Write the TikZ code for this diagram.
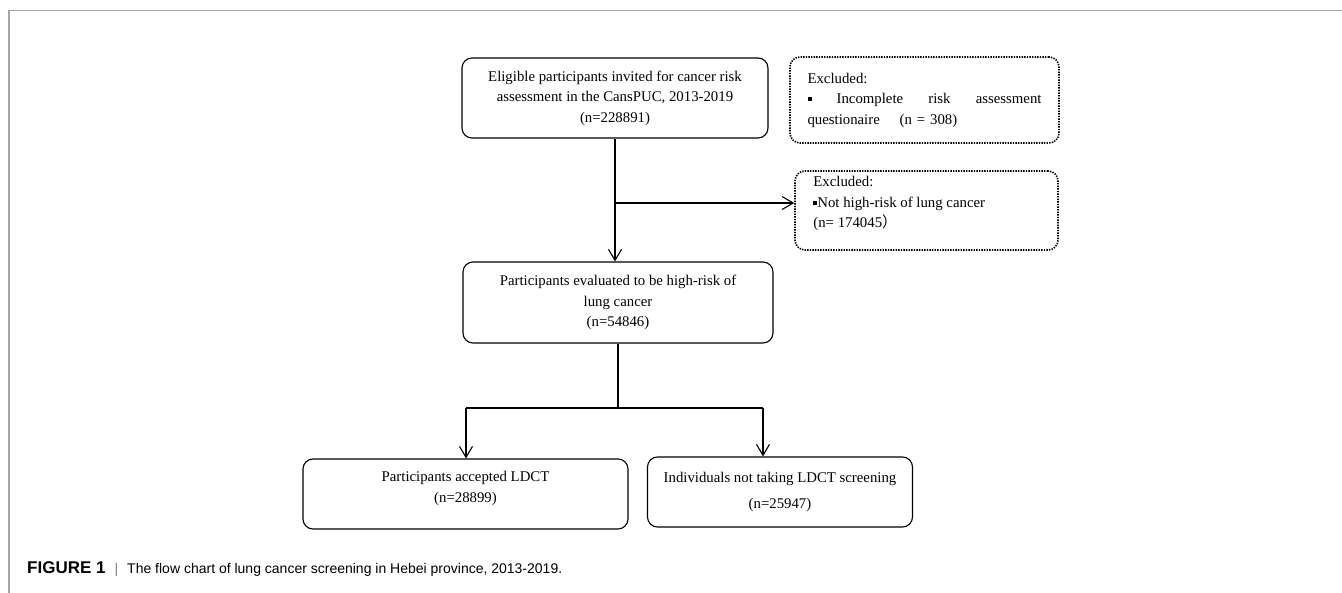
\documentclass[tikz,border=0pt]{standalone}
\usepackage{fontspec}
\setmainfont{Liberation Serif}
\newfontfamily\capfont{Liberation Sans}
\newfontfamily\cjkfont{Noto Sans CJK SC}
\usetikzlibrary{arrows.meta}
\newcommand{\sqb}{\raisebox{2.5pt}{\rule{4pt}{4pt}}}
\tikzset{
  flowbox/.style={draw, rounded corners=10pt, line width=1.1pt, align=center,
    inner sep=0pt, font=\fontsize{14.8}{20.5}\selectfont},
  exbox/.style={draw, rounded corners=10pt, line width=1.6pt,
    dash pattern=on 1.4pt off 1.2pt, inner sep=0pt, align=left,
    font=\fontsize{14.8}{20.5}\selectfont},
  flowline/.style={line width=1.1pt},
  flowarrow/.style={line width=1.1pt, -{Straight Barb[length=11pt,width=13pt,line width=1.1pt]}}
}
\begin{document}
\begin{tikzpicture}[x=1pt,y=-1pt]
  \useasboundingbox (0,0) rectangle (1342,593);
  \draw[gray!70, line width=1.5pt] (9,593) -- (9,10.5) -- (1342,10.5);
  \node[flowbox, minimum width=306pt, minimum height=80pt] (invite) at (615,98)
    {Eligible participants invited for cancer risk\\assessment in the CansPUC, 2013-2019\\(n=228891)};
  \node[exbox, minimum width=269pt, minimum height=86pt, text width=234pt] (excl1) at (924.5,100)
    {Excluded:\\\sqb\hfill Incomplete\hfill risk\hfill assessment\\questionaire\quad\ (n = 308)};
  \node[exbox, minimum width=263pt, minimum height=79pt] (excl2) at (926.5,210.5) {};
  \node[anchor=north west, inner sep=0pt, align=left, font=\fontsize{14.8}{20.5}\selectfont]
    (excl2text) at ([xshift=19pt,yshift=-6pt]excl2.north west)
    {Excluded:\\\sqb Not high-risk of lung cancer\\(n= 174045{\cjkfont ）}};
  \node[flowbox, minimum width=310pt, minimum height=81pt] (highrisk) at (618,302.5)
    {Participants evaluated to be high-risk of\\lung cancer\\(n=54846)};
  \node[flowbox, minimum width=325pt, minimum height=70pt] (ldct) at (465.5,494)
    {Participants accepted LDCT\\(n=28899)\\[-6pt]};
  \node[flowbox, minimum width=265pt, minimum height=70pt] (noldct) at (780,492)
    {Individuals not taking LDCT screening\\[6pt](n=25947)};
  \coordinate (branch) at (615,203);
  \coordinate (split) at (618,408);
  \coordinate (splitl) at (466,408);
  \coordinate (splitr) at (763,408);
  \draw[flowarrow] (invite.south) -- (invite.south |- highrisk.north);
  \draw[flowarrow] (branch) -- (branch -| excl2.west);
  \draw[flowline] (highrisk.south) -- (split);
  \draw[line width=1.8pt] (splitl) -- (splitr);
  \draw[flowarrow] (splitl) -- (splitl |- ldct.north);
  \draw[flowarrow] (splitr) -- (splitr |- noldct.north);
  \node[anchor=base west, inner sep=0pt, font=\capfont\fontsize{14}{17}\selectfont] (caption) at (27,573)
    {{\fontsize{17}{17}\selectfont\bfseries FIGURE 1}\hspace{9pt}{\color{gray}|}\hspace{9pt}The flow chart of lung cancer screening in Hebei province, 2013-2019.};
\end{tikzpicture}
\end{document}
